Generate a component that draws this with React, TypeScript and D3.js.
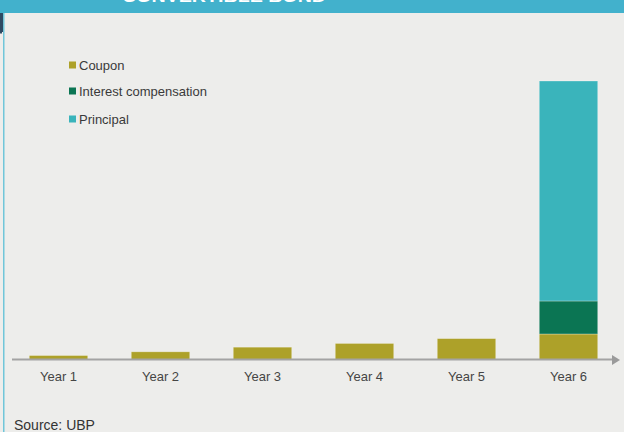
import React from "react";
import * as d3 from "d3";

const years = ["Year 1", "Year 2", "Year 3", "Year 4", "Year 5", "Year 6"];
const coupon = [1.8, 3.5, 5.6, 7.3, 9.5, 11.6];
const interestComp = [0, 0, 0, 0, 0, 15];
const principal = [0, 0, 0, 0, 0, 100];
const seriesKeys = ["coupon", "interest", "principal"];
const seriesLabels = ["Coupon", "Interest compensation", "Principal"];
const seriesColors = ["#ada129", "#0b7553", "#3ab4bb"];
const title = "CONVERTIBLE BOND";
const source = "Source: UBP";

const W = 624;
const H = 432;
const FONT = "'Liberation Sans', Arial, Helvetica, sans-serif";

export default function App() {
  const rows = years.map((y, i) => ({
    year: y,
    coupon: coupon[i],
    interest: interestComp[i],
    principal: principal[i],
  }));
  const stacked = d3.stack<any>().keys(seriesKeys)(rows);
  const maxTotal = d3.max(rows, (r) => r.coupon + r.interest + r.principal) as number;

  const x = d3
    .scaleBand<string>()
    .domain(years)
    .range([7.5, 619.5])
    .paddingInner(0.427)
    .paddingOuter(0.2135);
  const y = d3.scaleLinear().domain([0, maxTotal]).range([359.5, 81]);

  return (
    <div style={{ position: "fixed", left: 0, top: 0, width: W, height: H }}>
      <svg width={W} height={H} style={{ display: "block" }}>
        <rect x={0} y={0} width={W} height={H} fill="#ededeb" />
        {/* header band */}
        <rect x={0} y={0} width={W} height={13} fill="#42b1cc" />
        <text
          x={122}
          y={1.8}
          fill="#ffffff"
          fontFamily={FONT}
          fontWeight="bold"
          fontSize={17}
          textLength={204}
          lengthAdjust="spacingAndGlyphs"
        >
          {title}
        </text>
        {/* left edge */}
        <rect x={3} y={13} width={1.5} height={H - 13} fill="#70c6d9" />
        <rect x={0} y={13} width={3} height={19} fill="#2e4a63" />
        <rect x={0} y={32} width={2} height={1.5} fill="#2e4a63" />

        {/* bars */}
        {stacked.map((s, si) => (
          <g key={s.key} fill={seriesColors[si]}>
            {s.map((d, i) =>
              d[1] - d[0] > 0 ? (
                <rect
                  key={i}
                  x={x(years[i])}
                  y={y(d[1])}
                  width={x.bandwidth()}
                  height={y(d[0]) - y(d[1])}
                  stroke="rgba(255,255,255,0.35)"
                  strokeWidth={0.8}
                />
              ) : null
            )}
          </g>
        ))}

        {/* axis */}
        <line x1={12} x2={613} y1={359.5} y2={359.5} stroke="#a3a3a3" strokeWidth={2} />
        <path d="M612,355 L620,360 L612,365 Z" fill="#9a9a9a" />
        {years.map((yr) => (
          <text
            key={yr}
            x={(x(yr) as number) + x.bandwidth() / 2}
            y={381}
            textAnchor="middle"
            fontFamily={FONT}
            fontSize={13}
            fill="#454545"
          >
            {yr}
          </text>
        ))}

        {/* legend */}
        {seriesLabels.map((lab, i) => {
          const cy = [65, 91, 119][i];
          return (
            <g key={lab}>
              <rect x={69} y={cy - 3.5} width={7} height={7} fill={seriesColors[i]} />
              <text x={79} y={cy + 4.5} fontFamily={FONT} fontSize={13} fill="#3a3a3a">
                {lab}
              </text>
            </g>
          );
        })}

        {/* source */}
        <text x={14} y={430} fontFamily={FONT} fontSize={14} fill="#333333">
          {source}
        </text>
      </svg>
    </div>
  );
}
